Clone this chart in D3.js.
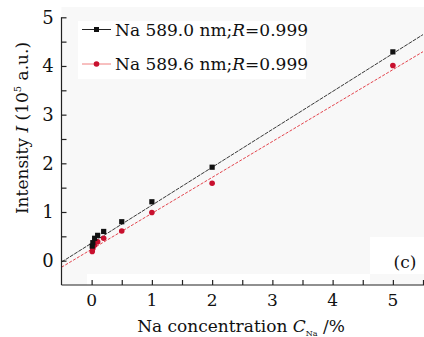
<!DOCTYPE html>
<html>
<head>
<meta charset="utf-8">
<script src="https://cdn.jsdelivr.net/npm/d3@7"></script>
<style>
  html, body { margin: 0; padding: 0; background: #fff; }
</style>
</head>
<body>
<div id="chart"></div>
<script>
// Na concentration (%)
const concentration = [0.01, 0.02, 0.05, 0.1, 0.2, 0.5, 1, 2, 5];
// Intensity (10^5 a.u.)
const na5890 = [0.30, 0.37, 0.46, 0.52, 0.60, 0.80, 1.21, 1.92, 4.29];
const na5896 = [0.19, 0.25, 0.32, 0.39, 0.46, 0.61, 0.99, 1.59, 4.01];
// linear fits: [slope, intercept]
const fit5890 = [0.779, 0.36];
const fit5896 = [0.738, 0.234];
const xTicks = [0, 1, 2, 3, 4, 5];
const yTicks = [0, 1, 2, 3, 4, 5];

const W = 424, H = 337;
const FONT = '"DejaVu Serif", "Liberation Serif", serif';
const x = d3.scaleLinear().domain([-0.5, 5.5]).range([61.5, 423]);
const y = d3.scaleLinear().domain([-0.5, 5]).range([285, 17.3]);

const svg = d3.select('#chart').append('svg')
    .attr('width', W)
    .attr('height', H)
    .attr('font-family', FONT)
    .style('font-family', FONT);

// plot background (slightly grey, as in the scan)
svg.append('rect')
    .attr('x', x(-0.5)).attr('y', 7)
    .attr('width', W - x(-0.5)).attr('height', y(-0.5) - 7)
    .attr('fill', '#f8f8f8');
svg.append('rect')
    .attr('x', 87).attr('y', 274)
    .attr('width', 283).attr('height', y(-0.5) - 274)
    .attr('fill', '#fff');
svg.append('rect')
    .attr('x', 370).attr('y', 237)
    .attr('width', W - 370).attr('height', 37)
    .attr('fill', '#fff');
svg.append('rect')
    .attr('x', 78).attr('y', 21)
    .attr('width', 228).attr('height', 58)
    .attr('fill', '#fff');

// fit lines
function fitLine(fit) {
    return [-0.5, 5.5].map(c => [x(c), y(fit[0] * c + fit[1])]);
}
svg.append('defs').append('clipPath').attr('id', 'plotClip')
    .append('rect')
    .attr('x', x(-0.5)).attr('y', 0)
    .attr('width', W - x(-0.5)).attr('height', y(-0.5));

svg.append('path')
    .attr('clip-path', 'url(#plotClip)')
    .attr('d', d3.line()(fitLine(fit5896)))
    .attr('fill', 'none')
    .attr('stroke', '#e0303a')
    .attr('stroke-width', 0.9)
    .attr('stroke-dasharray', '3,1.5');

svg.append('path')
    .attr('clip-path', 'url(#plotClip)')
    .attr('d', d3.line()(fitLine(fit5890)))
    .attr('fill', 'none')
    .attr('stroke', '#222')
    .attr('stroke-width', 0.9)
    .attr('stroke-dasharray', '4,1');

// data points
svg.append('g').selectAll('circle')
    .data(concentration)
    .enter()
    .append('circle')
    .attr('cx', d => x(d))
    .attr('cy', (d, i) => y(na5896[i]))
    .attr('r', 2.8)
    .attr('fill', '#c8102e');

svg.append('g').selectAll('rect')
    .data(concentration)
    .enter()
    .append('rect')
    .attr('x', d => x(d) - 2.6)
    .attr('y', (d, i) => y(na5890[i]) - 2.6)
    .attr('width', 5.2)
    .attr('height', 5.2)
    .attr('fill', '#111');

// axes (ticks inward, half-unit minor ticks)
const xAxis = svg.append('g')
    .attr('transform', `translate(0,${y(-0.5)})`)
    .call(d3.axisTop(x).tickValues(d3.range(0, 5.51, 0.5)).tickSize(5).tickFormat(''))
    .call(g => g.select('.domain').attr('d', `M${x(-0.5)},0H${W}`));
xAxis.selectAll('line, path').attr('stroke', '#222').attr('stroke-width', 1.2);

svg.append('g').selectAll('text')
    .data(xTicks)
    .enter()
    .append('text')
    .attr('x', d => x(d))
    .attr('y', 306)
    .attr('text-anchor', 'middle')
    .attr('fill', '#111')
    .style('font-size', '17px')
    .text(d => d);

const yAxis = svg.append('g')
    .attr('transform', `translate(${x(-0.5)},0)`)
    .call(d3.axisRight(y).tickValues(d3.range(0, 5.01, 0.5)).tickSize(5).tickFormat(''))
    .call(g => g.select('.domain').attr('d', `M0,${y(5)}V${y(-0.5)}`));
yAxis.selectAll('line, path').attr('stroke', '#222').attr('stroke-width', 1.2);

svg.append('g').selectAll('text')
    .data(yTicks)
    .enter()
    .append('text')
    .attr('x', 48)
    .attr('y', d => y(d) + 6.5)
    .attr('text-anchor', 'middle')
    .attr('fill', '#111')
    .style('font-size', '18px')
    .text(d => d);

// axis titles
const xTitle = svg.append('text')
    .attr('x', 241)
    .attr('y', 332)
    .attr('text-anchor', 'middle')
    .attr('fill', '#111')
    .style('font-size', '17px');
xTitle.append('tspan').text('Na concentration ');
xTitle.append('tspan').style('font-style', 'italic').text('C');
xTitle.append('tspan').attr('dy', 4).style('font-size', '8px').text('Na');
xTitle.append('tspan').attr('dy', -4).text(' /%');

const yTitle = svg.append('text')
    .attr('transform', 'translate(28,128) rotate(-90)')
    .attr('text-anchor', 'middle')
    .attr('fill', '#111')
    .style('font-size', '17px');
yTitle.append('tspan').text('Intensity ');
yTitle.append('tspan').style('font-style', 'italic').text('I');
yTitle.append('tspan').text(' (10');
yTitle.append('tspan').attr('dy', -7).style('font-size', '10px').text('5');
yTitle.append('tspan').attr('dy', 7).text(' a.u.)');

// legend
const legend = [
    { label: 'Na 589.0 nm;', color: '#111', stroke: '#222', shape: 'square', y: 29.5 },
    { label: 'Na 589.6 nm;', color: '#c8102e', stroke: '#f08080', shape: 'circle', y: 64 }
];
legend.forEach(d => {
    svg.append('line')
        .attr('x1', 82).attr('x2', 111)
        .attr('y1', d.y).attr('y2', d.y)
        .attr('stroke', d.stroke)
        .attr('stroke-width', 1);
    if (d.shape === 'square') {
        svg.append('rect')
            .attr('x', 94).attr('y', d.y - 2.5)
            .attr('width', 5).attr('height', 5)
            .attr('fill', d.color);
    } else {
        svg.append('circle')
            .attr('cx', 96.5).attr('cy', d.y)
            .attr('r', 2.8)
            .attr('fill', d.color);
    }
    const t = svg.append('text')
        .attr('x', 115)
        .attr('y', d.y + 6)
        .attr('fill', '#111')
        .style('font-size', '17px');
    t.append('tspan').text(d.label);
    t.append('tspan').style('font-style', 'italic').text('R');
    t.append('tspan').text('=0.999');
});

// panel label
svg.append('text')
    .attr('x', 405)
    .attr('y', 268)
    .attr('text-anchor', 'middle')
    .attr('fill', '#111')
    .style('font-size', '17px')
    .text('(c)');
</script>
</body>
</html>
